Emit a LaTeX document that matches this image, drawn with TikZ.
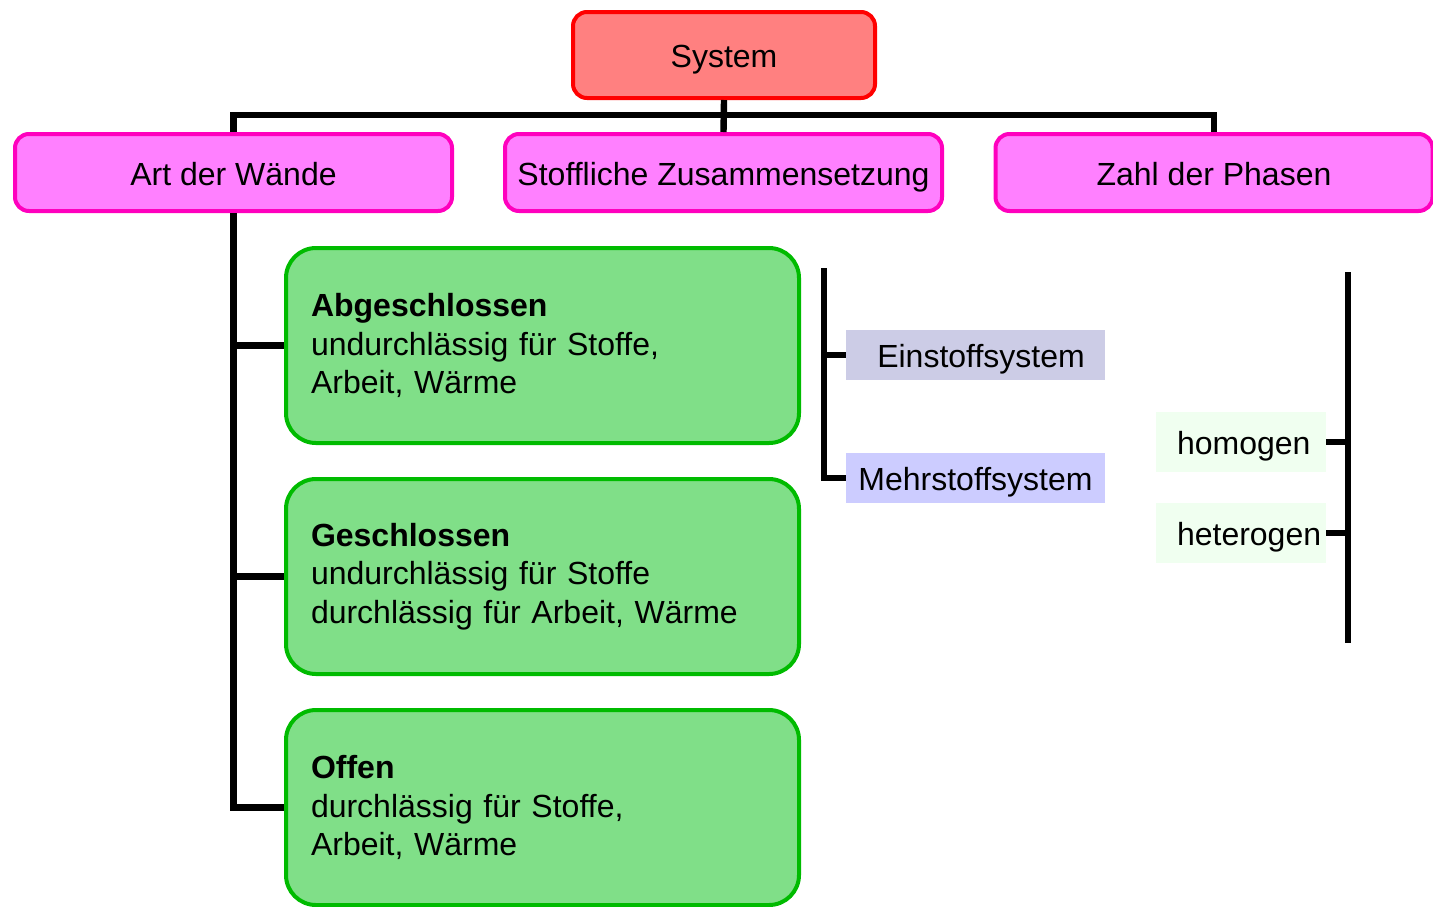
\documentclass[tikz,border=0pt]{standalone}
\usepackage{fontspec}
\setmainfont{Liberation Sans}
\definecolor{sysfill}{RGB}{255,128,128}
\definecolor{sysline}{RGB}{255,0,0}
\definecolor{pinkfill}{RGB}{255,128,255}
\definecolor{pinkline}{RGB}{255,0,190}
\definecolor{greenfill}{RGB}{128,223,136}
\definecolor{greenline}{RGB}{0,187,0}
\definecolor{einfill}{RGB}{204,204,230}
\definecolor{mehrfill}{RGB}{204,204,255}
\definecolor{phasefill}{RGB}{240,255,240}

\begin{document}
\begin{tikzpicture}[x=0.5pt,y=-0.5pt,
    txt/.style={font=\fontsize{16}{19.25}\selectfont},
    zeile/.style={text height=14pt,text depth=1.5pt},
    box/.style={txt,draw,line width=2pt,rounded corners=7pt,inner sep=0pt},
    kopf/.style={box,zeile,draw=pinkline,fill=pinkfill,minimum width=218.5pt,minimum height=38.5pt},
    wandbox/.style={box,draw=greenline,fill=greenfill,rounded corners=15pt,
        minimum width=256.5pt,minimum height=97.5pt,inner xsep=12.5pt,text width=231.5pt,align=left},
    stofftag/.style={txt,zeile,inner sep=0pt,minimum width=129.5pt,minimum height=25pt},
    phasetag/.style={txt,zeile,fill=phasefill,inner sep=0pt,inner xsep=10.5pt,minimum height=30pt,
        text width=64pt,align=left},
    linie/.style={line width=3.2pt}]
  \useasboundingbox (0,0) rectangle (1433,906);

  \node[box,zeile,draw=sysline,fill=sysfill,minimum width=151pt,minimum height=43pt] (sys) at (724,55) {System};
  \node[kopf] (wand) at (233.5,172.5) {Art der Wände};
  \node[kopf] (stoff) at (723.5,172.5) {Stoffliche Zusammensetzung};
  \node[kopf] (phase) at (1214,172.5) {Zahl der Phasen};

  \node[wandbox] (abg) at (542.5,345.5) {\textbf{Abgeschlossen}\\undurchlässig für Stoffe,\\Arbeit, Wärme};
  \node[wandbox] (geschl) at (542.5,576.5) {\textbf{Geschlossen}\\undurchlässig für Stoffe\\durchlässig für Arbeit, Wärme};
  \node[wandbox] (offen) at (542.5,807.5) {\textbf{Offen}\\durchlässig für Stoffe,\\Arbeit, Wärme};

  \node[stofftag,fill=einfill] (ein) at (975.5,355) {\hspace{5.5pt}Einstoffsystem};
  \node[stofftag,fill=mehrfill] (mehr) at (975.5,478) {Mehrstoffsystem};

  \node[phasetag] (homo) at (1241,442) {homogen};
  \node[phasetag] (hetero) at (1241,533) {heterogen};

  \coordinate (bus) at (724,115);
  \coordinate (stofftop) at (824,268);
  \coordinate (phtop) at (1348,272);
  \coordinate (phbot) at (1348,643);

  % Baum oben
  \draw[linie] (sys.south) -- (stoff.north);
  \draw[linie] (wand.north) |- (bus) -| (phase.north);
  % Wände
  \draw[linie] (wand.south) |- (offen.west);
  \draw[linie] (wand.south |- abg.west) -- (abg.west);
  \draw[linie] (wand.south |- geschl.west) -- (geschl.west);
  % Stoffe
  \draw[linie] (stofftop) |- (mehr.west);
  \draw[linie] (stofftop |- ein.west) -- (ein.west);
  % Phasen
  \draw[linie] (phtop) -- (phbot);
  \draw[linie] (homo.east) -- (homo.east -| phtop);
  \draw[linie] (hetero.east) -- (hetero.east -| phtop);
\end{tikzpicture}
\end{document}
